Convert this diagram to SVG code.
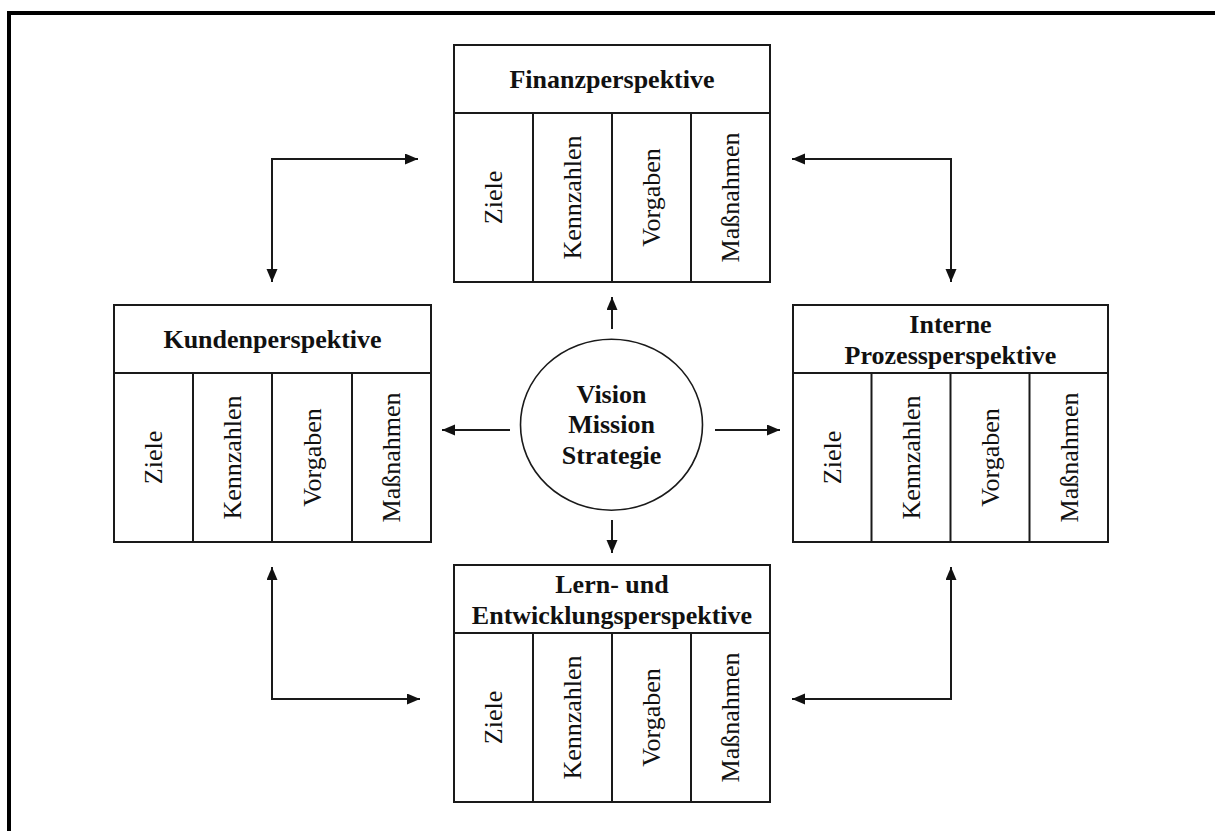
<svg xmlns="http://www.w3.org/2000/svg" width="1215" height="831" viewBox="0 0 1215 831">
<style>
.box{fill:#fff;stroke:#1a1a1a;stroke-width:2}
.ln{stroke:#1a1a1a;stroke-width:2;fill:none}
.t{font-family:"Liberation Serif","Times New Roman",serif;font-weight:bold;font-size:26px;fill:#111;text-anchor:middle}
.v{font-family:"Liberation Serif","Times New Roman",serif;font-size:26px;fill:#111;text-anchor:middle}
.c{stroke:#1a1a1a;stroke-width:2;fill:none}
</style>
<defs>
<marker id="ah" markerUnits="userSpaceOnUse" markerWidth="14" markerHeight="12" refX="13" refY="5.5" orient="auto-start-reverse">
<path d="M0,0 L13,5.5 L0,11 z" fill="#111"/>
</marker>
</defs>
<rect width="1215" height="831" fill="#fff"/>
<path d="M9,831 V13 H1215" fill="none" stroke="#000" stroke-width="4"/>

<g id="finanz">
<rect class="box" x="454" y="45" width="316" height="237"/>
<path class="ln" d="M454,113 H770 M533,113 V282 M612,113 V282 M691,113 V282"/>
<text class="t" x="612" y="88">Finanzperspektive</text>
<text class="v" transform="translate(502,197.5) rotate(-90)">Ziele</text>
<text class="v" transform="translate(581,197.5) rotate(-90)">Kennzahlen</text>
<text class="v" transform="translate(660,197.5) rotate(-90)">Vorgaben</text>
<text class="v" transform="translate(739,197.5) rotate(-90)">Maßnahmen</text>
</g>

<g id="kunden">
<rect class="box" x="114" y="305" width="317" height="237"/>
<path class="ln" d="M114,373 H431 M193,373 V542 M272,373 V542 M352,373 V542"/>
<text class="t" x="272.5" y="348">Kundenperspektive</text>
<text class="v" transform="translate(162,457.5) rotate(-90)">Ziele</text>
<text class="v" transform="translate(241,457.5) rotate(-90)">Kennzahlen</text>
<text class="v" transform="translate(320.5,457.5) rotate(-90)">Vorgaben</text>
<text class="v" transform="translate(400,457.5) rotate(-90)">Maßnahmen</text>
</g>

<g id="intern">
<rect class="box" x="793" y="305" width="315" height="237"/>
<path class="ln" d="M793,373 H1108 M871.5,373 V542 M950.5,373 V542 M1029.5,373 V542"/>
<text class="t" x="950.5" y="333">Interne</text>
<text class="t" x="950.5" y="364">Prozessperspektive</text>
<text class="v" transform="translate(840.5,457.5) rotate(-90)">Ziele</text>
<text class="v" transform="translate(919.5,457.5) rotate(-90)">Kennzahlen</text>
<text class="v" transform="translate(998.5,457.5) rotate(-90)">Vorgaben</text>
<text class="v" transform="translate(1077.5,457.5) rotate(-90)">Maßnahmen</text>
</g>

<g id="lern">
<rect class="box" x="454" y="565" width="316" height="237"/>
<path class="ln" d="M454,633 H770 M533,633 V802 M612,633 V802 M691,633 V802"/>
<text class="t" x="612" y="593">Lern- und</text>
<text class="t" x="612" y="624">Entwicklungsperspektive</text>
<text class="v" transform="translate(502,717.5) rotate(-90)">Ziele</text>
<text class="v" transform="translate(581,717.5) rotate(-90)">Kennzahlen</text>
<text class="v" transform="translate(660,717.5) rotate(-90)">Vorgaben</text>
<text class="v" transform="translate(739,717.5) rotate(-90)">Maßnahmen</text>
</g>

<g id="vision">
<ellipse cx="611.5" cy="424.7" rx="91" ry="85.5" fill="#fff" stroke="#1a1a1a" stroke-width="1.6"/>
<text class="t" x="611.5" y="403">Vision</text>
<text class="t" x="611.5" y="433">Mission</text>
<text class="t" x="611.5" y="464">Strategie</text>
</g>

<g id="connectors">
<path class="c" d="M612,329 V297" marker-end="url(#ah)"/>
<path class="c" d="M612,520 V553" marker-end="url(#ah)"/>
<path class="c" d="M510,430 H442" marker-end="url(#ah)"/>
<path class="c" d="M715,430 H780" marker-end="url(#ah)"/>
<path class="c" d="M418,159 H272 V282" marker-start="url(#ah)" marker-end="url(#ah)"/>
<path class="c" d="M792,159 H951 V282" marker-start="url(#ah)" marker-end="url(#ah)"/>
<path class="c" d="M272,567 V699 H420" marker-start="url(#ah)" marker-end="url(#ah)"/>
<path class="c" d="M951,567 V699 H792" marker-start="url(#ah)" marker-end="url(#ah)"/>
</g>
</svg>
